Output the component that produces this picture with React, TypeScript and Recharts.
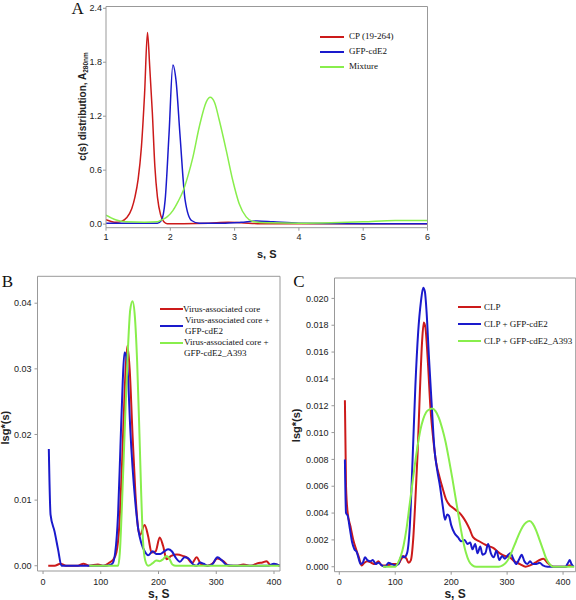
import { LineChart, Line, XAxis, YAxis } from 'recharts'

const SANS = '"Liberation Sans", Arial, sans-serif'
const SERIF = '"Liberation Serif", "Times New Roman", serif'
const RED = '#cc1a1a'
const BLUE = '#1a1acc'
const GREEN = '#88ee4c'
const AXIS = '#999'

// panel A: c(s) distribution
const aTicksX = [1, 2, 3, 4, 5, 6]
const aTicksY = [0, 0.6, 1.2, 1.8, 2.4]
const cpS = [1.0, 1.08, 1.16, 1.24, 1.32, 1.4, 1.45, 1.5, 1.55, 1.6, 1.645, 1.68, 1.72, 1.76, 1.8, 1.85, 1.9, 1.95, 2.2, 2.6, 2.9, 3.1, 3.4, 4.0, 5.0, 6.0]
const cpC = [0.05, 0.03, 0.02, 0.03, 0.07, 0.17, 0.3, 0.5, 0.85, 1.45, 2.13, 1.75, 1.25, 0.64, 0.3, 0.1, 0.025, 0.005, 0.005, 0.01, 0.02, 0.015, 0.005, 0.005, 0.005, 0.005]
const gfpS = [1.0, 1.4, 1.8, 1.86, 1.92, 1.98, 2.04, 2.09, 2.15, 2.23, 2.33, 2.45, 2.8, 3.1, 3.35, 3.6, 4.0, 5.0, 6.0]
const gfpC = [0.01, 0.01, 0.01, 0.04, 0.27, 1.0, 1.77, 1.59, 1.0, 0.27, 0.04, 0.01, 0.01, 0.02, 0.035, 0.025, 0.01, 0.005, 0.005]
const mixS = [1.0, 1.08, 1.16, 1.31, 1.6, 1.8, 1.86, 1.95, 2.04, 2.12, 2.2, 2.28, 2.35, 2.45, 2.56, 2.62, 2.69, 2.76, 2.87, 2.97, 3.07, 3.18, 3.28, 3.5, 4.0, 4.5, 5.0, 5.5, 6.0]
const mixC = [0.1, 0.07, 0.045, 0.025, 0.02, 0.025, 0.045, 0.08, 0.15, 0.25, 0.37, 0.55, 0.74, 1.08, 1.36, 1.41, 1.35, 1.16, 0.82, 0.49, 0.23, 0.08, 0.03, 0.015, 0.01, 0.015, 0.025, 0.04, 0.04]

// panel B: virus-associated core
const bTicksX = [0, 100, 200, 300, 400]
const bTicksY = [0, 0.01, 0.02, 0.03, 0.04]
const coreS = [9, 20, 30, 40, 50, 60, 70, 80, 95, 105, 115, 122, 127, 132, 137, 142, 146, 150, 155, 160, 165, 168, 176, 182, 188, 195, 202, 208, 214, 222, 232, 242, 250, 258, 266, 274, 285, 293, 302, 312, 322, 335, 347, 360, 372, 380, 387, 394, 402, 410]
const coreV = [0, 0, 0.0003, 0, 0, 0, 0.0003, 0, 0.0002, 0, 0.0005, 0.001, 0.002, 0.006, 0.016, 0.028, 0.0335, 0.03, 0.02, 0.011, 0.0055, 0.0047, 0.0062, 0.0045, 0.002, 0.0022, 0.0043, 0.003, 0.001, 0.0015, 0.0017, 0.0015, 0.0012, 0.0004, 0.0013, 0.0002, 0, 0.0003, 0.0011, 0.0007, 0, 0, 0.0002, 0, 0.0004, 0.0005, 0.0007, 0.0001, 0.0002, 0]
const coreGfpS = [10, 13, 20, 26, 32, 50, 70, 90, 110, 120, 125, 130, 134, 138, 141, 144, 147, 151, 155, 160, 165, 170, 176, 182, 190, 196, 203, 210, 217, 223, 230, 237, 245, 252, 260, 266, 272, 278, 285, 293, 302, 310, 318, 330, 350, 370, 390, 400, 405, 410]
const coreGfpV = [0.0178, 0.0078, 0.0052, 0.0025, 0, 0, 0, 0, 0, 0.0003, 0.002, 0.008, 0.018, 0.028, 0.0325, 0.032, 0.029, 0.021, 0.015, 0.0095, 0.0055, 0.0035, 0.0022, 0.0016, 0.0022, 0.0018, 0.0018, 0.0022, 0.0025, 0.0022, 0.0012, 0.0006, 0.0013, 0.0011, 0.0002, 0, 0.0005, 0.0003, 0, 0.0002, 0.0013, 0.0008, 0.0001, 0, 0, 0, 0, 0.0003, 0.0002, 0]
const coreA393S = [80, 130, 133, 137, 142, 147, 151, 155, 159, 163, 167, 170, 173, 177, 182, 190, 196, 202, 208, 214, 218, 224, 230, 300, 410]
const coreA393V = [0, 0, 0.002, 0.01, 0.022, 0.033, 0.039, 0.0403, 0.038, 0.031, 0.02, 0.011, 0.004, 0.0008, 0, 0.0004, 0.0008, 0.0007, 0.001, 0.0015, 0.0012, 0.0002, 0, 0, 0]

// panel C: CLP
const cTicksX = [0, 100, 200, 300, 400]
const cTicksY = [0, 0.002, 0.004, 0.006, 0.008, 0.01, 0.012, 0.014, 0.016, 0.018, 0.02]
const clpS = [10, 12, 15, 20, 25, 30, 35, 40, 45, 50, 57, 63, 70, 76, 85, 95, 105, 110, 115, 120, 124, 128, 132, 136, 140, 144, 148, 151, 154, 158, 163, 168, 173, 179, 185, 191, 197, 203, 209, 215, 221, 227, 233, 239, 250, 263, 275, 287, 296, 305, 313, 323, 333, 341, 350, 358, 365, 372, 383, 395, 405, 410, 415]
const clpV = [0.0124, 0.006, 0.004, 0.003, 0.002, 0.0013, 0.0007, 0.0001, 0.0003, 0.0004, 0.0003, 0.0002, 0.0004, 0.0001, 0.0001, 0.0002, 0.0002, 0.0005, 0.0008, 0.0006, 0.0003, 0.0005, 0.002, 0.005, 0.0085, 0.013, 0.0168, 0.0182, 0.0178, 0.0155, 0.0118, 0.0095, 0.0078, 0.0067, 0.0058, 0.005, 0.0046, 0.0044, 0.0042, 0.004, 0.0037, 0.0033, 0.0028, 0.0022, 0.0019, 0.0016, 0.0014, 0.001, 0.0008, 0.0007, 0.0004, 0.0002, 0, 0.0001, 0.0003, 0.0005, 0.0006, 0.0003, 0, 0, 0, 0.0001, 0.0001]
const clpGfpS = [10, 12, 15, 19, 23, 27, 31, 34, 38, 42, 46, 50, 55, 60, 65, 70, 76, 82, 88, 93, 100, 106, 111, 116, 121, 126, 131, 136, 141, 146, 150, 153, 156, 160, 165, 170, 175, 180, 185, 189, 193, 196, 200, 206, 212, 218, 224, 229, 234, 238, 243, 247, 252, 256, 261, 266, 271, 276, 281, 286, 291, 296, 302, 306, 311, 316, 322, 326, 331, 336, 341, 346, 352, 358, 364, 372, 390, 404, 409, 412, 415, 419]
const clpGfpV = [0.008, 0.004, 0.0038, 0.0028, 0.0018, 0.0013, 0.0011, 0.0007, 0.0002, 0.0003, 0.0007, 0.0005, 0.0004, 0.0005, 0.0002, 0.0003, 0.0001, 0, 0.0003, 0.0002, 0.0001, 0.0002, 0.0008, 0.0007, 0.001, 0.003, 0.008, 0.0135, 0.0175, 0.0198, 0.0208, 0.0205, 0.019, 0.0158, 0.0122, 0.0088, 0.0072, 0.006, 0.0045, 0.0035, 0.0039, 0.0038, 0.0031, 0.0025, 0.0022, 0.0019, 0.002, 0.0017, 0.0018, 0.0013, 0.0017, 0.001, 0.0015, 0.0009, 0.001, 0.0017, 0.001, 0.0007, 0.0012, 0.0005, 0.0008, 0.0006, 0.0009, 0.001, 0.0006, 0.0002, 0.0006, 0.0009, 0.0004, 0.0002, 0.0004, 0.0002, 0.0002, 0.0003, 0.0001, 0, 0, 0, 0.0003, 0.0005, 0.0002, 0]
const clpA393S = [78, 100, 105, 110, 115, 120, 125, 130, 135, 140, 145, 150, 155, 160, 166, 172, 178, 184, 190, 196, 202, 208, 214, 220, 226, 232, 238, 245, 285, 292, 298, 304, 310, 316, 322, 328, 334, 340, 346, 352, 358, 364, 370, 376, 382, 400, 420]
const clpA393V = [0, 0, 0.0003, 0.0008, 0.0016, 0.0028, 0.0044, 0.006, 0.0076, 0.009, 0.0102, 0.011, 0.0115, 0.0117, 0.0118, 0.0116, 0.0111, 0.0103, 0.0093, 0.008, 0.0066, 0.0051, 0.0036, 0.0022, 0.0011, 0.0004, 0.0001, 0, 0, 0.0001, 0.0003, 0.0007, 0.0013, 0.0019, 0.0025, 0.003, 0.0033, 0.0034, 0.0032, 0.0027, 0.002, 0.0013, 0.0006, 0.0002, 0, 0, 0]

const legendA = ['CP (19-264)', 'GFP-cdE2', 'Mixture']
const legendB = [['Virus-associated core'], ['Virus-associated core +', 'GFP-cdE2'], ['Virus-associated core +', 'GFP-cdE2_A393']]
const legendC = ['CLP', 'CLP + GFP-cdE2', 'CLP + GFP-cdE2_A393']

const toPoints = (xs: number[], ys: number[]) => xs.map((s, i) => ({ s, v: ys[i] }))

const tickStyle = { fontSize: 9, fill: '#222', fontFamily: SANS }

const xTitle = (dy: number, size: number) => (props: any) => {
  const vb = props.viewBox
  return (
    <text x={vb.x + vb.width / 2} y={vb.y + dy} textAnchor="middle" fontSize={size} fontWeight="bold" fill="#222" fontFamily={SANS}>
      s, S
    </text>
  )
}

const yTitle = (dx: number, dy: number, size: number, body: React.ReactNode) => (props: any) => {
  const vb = props.viewBox
  const x = vb.x + dx
  const y = vb.y + vb.height / 2 + dy
  return (
    <text x={x} y={y} transform={`rotate(-90 ${x} ${y})`} textAnchor="middle" fontSize={size} fontWeight="bold" fill="#222" fontFamily={SANS}>
      {body}
    </text>
  )
}

function LegendRow({ color, lineX, lineW, lineY, textX, textTop, lines }: any) {
  return (
    <>
      <div style={{ position: 'absolute', left: lineX, top: lineY - 1, width: lineW, height: 2, background: color }} />
      <div style={{ position: 'absolute', left: textX, top: textTop, fontFamily: SERIF, fontSize: 9, lineHeight: '10.8px', color: '#111', whiteSpace: 'nowrap' }}>
        {lines.map((t: string, i: number) => (
          <div key={i}>{t}</div>
        ))}
      </div>
    </>
  )
}

function Letter({ left, top, children }: any) {
  return (
    <div style={{ position: 'absolute', left, top, fontFamily: SERIF, fontSize: 17, lineHeight: '17px', color: '#111' }}>{children}</div>
  )
}

function PanelA() {
  return (
    <div style={{ position: 'absolute', left: 0, top: 0 }}>
      <LineChart width={576} height={270} margin={{ top: 6.5, right: 148.5, bottom: 0, left: 0 }}>
        <XAxis type="number" dataKey="s" domain={[1, 6]} ticks={aTicksX} interval={0} allowDataOverflow height={42.3} stroke={AXIS} tickSize={3} tickMargin={3} tick={tickStyle} label={xTitle(30.3, 11)} />
        <XAxis xAxisId="top" orientation="top" type="number" dataKey="s" domain={[1, 6]} ticks={aTicksX} interval={0} allowDataOverflow height={1} mirror stroke={AXIS} tickSize={3} tick={false} />
        <YAxis type="number" domain={[-0.04, 2.42]} ticks={aTicksY} interval={0} allowDataOverflow width={106} stroke={AXIS} tickSize={3} tickMargin={1} tick={tickStyle} tickFormatter={(v: number) => v.toFixed(1)}
          label={yTitle(86.3, -10.6, 10, <>c(s) distribution, A<tspan fontSize={6.5} dy={2}>280nm</tspan></>)} />
        <YAxis yAxisId="right" orientation="right" type="number" domain={[-0.04, 2.42]} ticks={aTicksY} interval={0} allowDataOverflow width={1} mirror stroke={AXIS} tickSize={3} tick={false} />
        <Line data={toPoints(cpS, cpC)} dataKey="v" type="monotone" stroke={RED} strokeWidth={1.5} dot={false} isAnimationActive={false} />
        <Line data={toPoints(gfpS, gfpC)} dataKey="v" type="monotone" stroke={BLUE} strokeWidth={1.5} dot={false} isAnimationActive={false} />
        <Line data={toPoints(mixS, mixC)} dataKey="v" type="monotone" stroke={GREEN} strokeWidth={1.5} dot={false} isAnimationActive={false} />
      </LineChart>
    </div>
  )
}

function PanelB() {
  return (
    <div style={{ position: 'absolute', left: 0, top: 270 }}>
      <LineChart width={288} height={330} margin={{ top: 6.3, right: 8, bottom: 0, left: 0 }}>
        <XAxis type="number" dataKey="s" domain={[-9.6, 410.4]} ticks={bTicksX} interval={0} allowDataOverflow height={29} stroke={AXIS} tickSize={3} tickMargin={4.5} tick={tickStyle} label={xTitle(26.5, 12)} />
        <XAxis xAxisId="top" orientation="top" type="number" dataKey="s" domain={[-9.6, 410.4]} ticks={bTicksX} interval={0} allowDataOverflow height={1} mirror stroke={AXIS} tickSize={3} tick={false} />
        <YAxis type="number" domain={[-0.0008, 0.0441]} ticks={bTicksY} interval={0} allowDataOverflow width={37.5} stroke={AXIS} tickSize={3} tickMargin={3} tick={tickStyle} tickFormatter={(v: number) => v.toFixed(2)}
          label={yTitle(8.7, 4, 11, 'lsg*(s)')} />
        <YAxis yAxisId="right" orientation="right" type="number" domain={[-0.0008, 0.0441]} ticks={bTicksY} interval={0} allowDataOverflow width={1} mirror stroke={AXIS} tickSize={3} tick={false} />
        <Line data={toPoints(coreS, coreV)} dataKey="v" type="monotone" stroke={RED} strokeWidth={2} dot={false} isAnimationActive={false} />
        <Line data={toPoints(coreGfpS, coreGfpV)} dataKey="v" type="monotone" stroke={BLUE} strokeWidth={2} dot={false} isAnimationActive={false} />
        <Line data={toPoints(coreA393S, coreA393V)} dataKey="v" type="monotone" stroke={GREEN} strokeWidth={2} dot={false} isAnimationActive={false} />
      </LineChart>
    </div>
  )
}

function PanelC() {
  return (
    <div style={{ position: 'absolute', left: 288, top: 270 }}>
      <LineChart width={288} height={330} margin={{ top: 8, right: 0.3, bottom: 0, left: 0 }}>
        <XAxis type="number" dataKey="s" domain={[-8.6, 422.6]} ticks={cTicksX} interval={0} allowDataOverflow height={28.3} stroke={AXIS} tickSize={3} tickMargin={4} tick={tickStyle} label={xTitle(26.5, 12)} />
        <XAxis xAxisId="top" orientation="top" type="number" dataKey="s" domain={[-8.6, 422.6]} ticks={cTicksX} interval={0} allowDataOverflow height={1} mirror stroke={AXIS} tickSize={3} tick={false} />
        <YAxis type="number" domain={[-0.00037, 0.02152]} ticks={cTicksY} interval={0} allowDataOverflow width={46.5} stroke={AXIS} tickSize={3} tickMargin={3} tick={tickStyle} tickFormatter={(v: number) => v.toFixed(3)}
          label={yTitle(12.5, 0.5, 11, 'lsg*(s)')} />
        <YAxis yAxisId="right" orientation="right" type="number" domain={[-0.00037, 0.02152]} ticks={cTicksY} interval={0} allowDataOverflow width={1} mirror stroke={AXIS} tickSize={3} tick={false} />
        <Line data={toPoints(clpS, clpV)} dataKey="v" type="monotone" stroke={RED} strokeWidth={2} dot={false} isAnimationActive={false} />
        <Line data={toPoints(clpGfpS, clpGfpV)} dataKey="v" type="monotone" stroke={BLUE} strokeWidth={2} dot={false} isAnimationActive={false} />
        <Line data={toPoints(clpA393S, clpA393V)} dataKey="v" type="monotone" stroke={GREEN} strokeWidth={2} dot={false} isAnimationActive={false} />
      </LineChart>
    </div>
  )
}

const colors = [RED, BLUE, GREEN]

export default function App() {
  return (
    <div style={{ position: 'absolute', left: 0, top: 0, width: 576, height: 600, background: '#fff', overflow: 'hidden' }}>
      <PanelA />
      <PanelB />
      <PanelC />

      <Letter left={71.5} top={0}>A</Letter>
      <Letter left={1.7} top={272.5}>B</Letter>
      <Letter left={293.3} top={272.5}>C</Letter>

      {legendA.map((t, i) => (
        <LegendRow key={t} color={colors[i]} lineX={320} lineW={24} lineY={[36.7, 51.7, 66.7][i]} textX={349} textTop={[36.7, 51.7, 66.7][i] - 5.4} lines={[t]} />
      ))}
      {legendB.map((t, i) => (
        <LegendRow key={i} color={colors[i]} lineX={159.5} lineW={23} lineY={[309.3, 326, 342.7][i]} textX={[183, 185, 184][i]} textTop={[303.7, 315.2, 337.4][i]} lines={t} />
      ))}
      {legendC.map((t, i) => (
        <LegendRow key={t} color={colors[i]} lineX={458} lineW={23} lineY={[307.3, 324.3, 341][i]} textX={484} textTop={[307.3, 324.3, 341][i] - 5.4} lines={[t]} />
      ))}
    </div>
  )
}
